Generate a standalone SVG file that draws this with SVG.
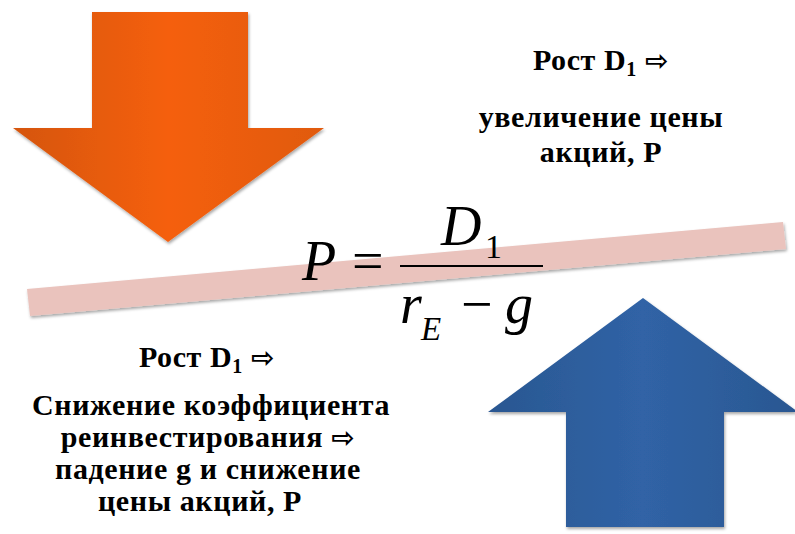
<svg xmlns="http://www.w3.org/2000/svg" width="795" height="534" viewBox="0 0 795 534">
<defs>
<linearGradient id="gOrange" x1="0" y1="0" x2="1" y2="0">
<stop offset="0" stop-color="#D5560F"/>
<stop offset="0.5" stop-color="#F55F0A"/>
<stop offset="1" stop-color="#E05A10"/>
</linearGradient>
<linearGradient id="gBlue" x1="0" y1="0" x2="1" y2="0">
<stop offset="0" stop-color="#2A5791"/>
<stop offset="0.5" stop-color="#3063A6"/>
<stop offset="1" stop-color="#2A5791"/>
</linearGradient>
<filter id="shadow" x="-10%" y="-10%" width="120%" height="120%">
<feDropShadow dx="1" dy="2" stdDeviation="1.5" flood-color="#000" flood-opacity="0.35"/>
</filter>
</defs>
<style>
text{font-family:'Liberation Serif','DejaVu Serif',serif}
.lbl{font-weight:bold;font-size:30px;letter-spacing:0.6px;fill:#000;text-anchor:middle}
.arr{font-family:'DejaVu Sans',sans-serif;font-weight:bold;font-size:28px}
.sub{font-size:20px}
.it{font-style:italic}
</style>
<g id="down-arrow" filter="url(#shadow)">
<polygon points="92,12 248,12 248,128 324,128 168,242 13,128 92,128" fill="url(#gOrange)"/>
</g>
<g id="up-arrow" filter="url(#shadow)">
<polygon points="643,298 798,412 724,412 724,527 566,527 566,412 488,412" fill="url(#gBlue)"/>
</g>
<g id="lever" filter="url(#shadow)">
<polygon points="27,289 783,222 786,249 30,316" fill="#EAC3BD"/>
</g>
<g id="formula">
<text x="302" y="280" font-size="56"><tspan class="it">P</tspan><tspan x="352">=</tspan></text>
<rect x="400" y="265" width="143" height="2" fill="#000"/>
<text x="441" y="245" font-size="56"><tspan class="it">D</tspan><tspan x="485" dy="13" font-size="34">1</tspan></text>
<text x="400" y="323" font-size="56"><tspan class="it">r</tspan><tspan class="it" x="421" dy="17" font-size="33">E</tspan><tspan x="461" dy="-17">−</tspan><tspan class="it" x="505">g</tspan></text>
</g>
<g id="text-top-right">
<text class="lbl" x="601" y="70">Рост D<tspan class="sub" dy="6">1</tspan><tspan dy="-6"> </tspan><tspan class="arr">⇨</tspan></text>
<text class="lbl" x="601" y="127">увеличение цены</text>
<text class="lbl" x="601" y="162">акций, Р</text>
</g>
<g id="text-bottom-left">
<text class="lbl" x="207" y="367">Рост D<tspan class="sub" dy="6">1</tspan><tspan dy="-6"> </tspan><tspan class="arr">⇨</tspan></text>
<text class="lbl" x="211" y="415">Снижение коэффициента</text>
<text class="lbl" x="208" y="447">реинвестирования <tspan class="arr">⇨</tspan></text>
<text class="lbl" x="208" y="479">падение g и снижение</text>
<text class="lbl" x="200" y="511">цены акций, Р</text>
</g>
<g id="connectors"/>
</svg>
